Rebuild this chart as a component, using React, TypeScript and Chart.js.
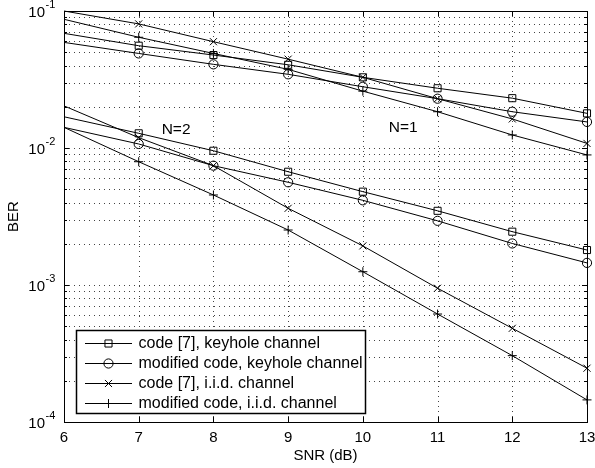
import React, { useEffect, useRef } from "react";
import { Chart, registerables } from "chart.js";

Chart.register(...registerables);

const snr = [6, 7, 8, 9, 10, 11, 12, 13];

// N = 1
const code7Keyhole1 = [0.0687, 0.0558, 0.0477, 0.0405, 0.0328, 0.0273, 0.0231, 0.0179];
const modKeyhole1 = [0.059, 0.049, 0.0408, 0.0345, 0.028, 0.0229, 0.0184, 0.0155];
const code7Iid1 = [0.1, 0.0805, 0.0597, 0.0445, 0.0328, 0.0229, 0.0163, 0.0108];
const modIid1 = [0.087, 0.0643, 0.049, 0.0375, 0.026, 0.0184, 0.01245, 0.0089];

// N = 2
const code7Keyhole2 = [0.0169, 0.0128, 0.00955, 0.00671, 0.0048, 0.00348, 0.00245, 0.0018];
const modKeyhole2 = [0.01415, 0.0107, 0.00743, 0.00562, 0.00415, 0.00294, 0.00201, 0.00145];
const code7Iid2 = [0.0203, 0.0119, 0.00743, 0.00363, 0.00193, 0.000947, 0.000483, 0.000247];
const modIid2 = [0.01415, 0.00794, 0.00454, 0.00252, 0.00125, 0.000614, 0.000305, 0.000145];

const xTicks = [6, 7, 8, 9, 10, 11, 12, 13];
const yDecades = [1e-4, 1e-3, 1e-2, 1e-1];
const yDecadeExp = ["-4", "-3", "-2", "-1"];
const yMinorMultiples = [2, 3, 4, 5, 6, 7, 8, 9];

const legendLabels = [
  "code [7], keyhole channel",
  "modified code, keyhole channel",
  "code [7], i.i.d. channel",
  "modified code, i.i.d. channel",
];

const FONT = '"Liberation Sans", Arial, Helvetica, sans-serif';

type Marker = { style: string; radius: number };
const markers: Marker[] = [
  { style: "rect", radius: 5 },
  { style: "circle", radius: 4.6 },
  { style: "crossRot", radius: 5 },
  { style: "cross", radius: 4.5 },
];

function mk(data: number[], m: Marker, label: string) {
  return {
    label,
    data: snr.map((x, i) => ({ x, y: data[i] })),
    borderColor: "#000",
    borderWidth: 1,
    pointStyle: m.style,
    pointRadius: snr.map((x) => (x === 6 ? 0 : m.radius)),
    pointBorderColor: "#000",
    pointBackgroundColor: "rgba(0,0,0,0)",
    pointBorderWidth: 1,
    tension: 0,
    fill: false,
    clip: false,
  };
}

function drawMarker(ctx: CanvasRenderingContext2D, m: Marker, x: number, y: number) {
  ctx.beginPath();
  const r = m.radius;
  if (m.style === "rect") {
    const s = Math.SQRT1_2 * r;
    ctx.rect(x - s, y - s, 2 * s, 2 * s);
  } else if (m.style === "circle") {
    ctx.arc(x, y, r, 0, Math.PI * 2);
  } else if (m.style === "crossRot") {
    const s = Math.SQRT1_2 * r;
    ctx.moveTo(x - s, y - s);
    ctx.lineTo(x + s, y + s);
    ctx.moveTo(x - s, y + s);
    ctx.lineTo(x + s, y - s);
  } else {
    ctx.moveTo(x - r, y);
    ctx.lineTo(x + r, y);
    ctx.moveTo(x, y - r);
    ctx.lineTo(x, y + r);
  }
  ctx.stroke();
}

const decorPlugin = {
  id: "decor",
  beforeDatasetsDraw(chart: any) {
    const ctx = chart.ctx;
    const { left, right, top, bottom } = chart.chartArea;
    const xs = chart.scales.x;
    const ys = chart.scales.y;
    ctx.save();
    ctx.fillStyle = "#fff";
    ctx.fillRect(0, 0, chart.width, chart.height);
    ctx.strokeStyle = "#444";
    ctx.lineWidth = 1;
    ctx.setLineDash([1, 4]);
    for (const t of xTicks) {
      const px = Math.round(xs.getPixelForValue(t)) + 0.5;
      if (px <= left + 1 || px >= right - 1) continue;
      ctx.beginPath();
      ctx.moveTo(px, top);
      ctx.lineTo(px, bottom);
      ctx.stroke();
    }
    for (const d of yDecades) {
      for (const m of [1, ...yMinorMultiples]) {
        const v = d * m;
        if (v >= 0.1 + 1e-12 || v <= 1e-4 + 1e-12) continue;
        const py = Math.round(ys.getPixelForValue(v)) + 0.5;
        ctx.beginPath();
        ctx.moveTo(left, py);
        ctx.lineTo(right, py);
        ctx.stroke();
      }
    }
    ctx.restore();
  },
  afterDatasetsDraw(chart: any) {
    const ctx = chart.ctx;
    const { left, right, top, bottom } = chart.chartArea;
    const xs = chart.scales.x;
    const ys = chart.scales.y;
    ctx.save();
    ctx.setLineDash([]);
    ctx.strokeStyle = "#000";
    ctx.lineWidth = 1;
    // ticks
    ctx.beginPath();
    for (const t of xTicks) {
      const px = Math.round(xs.getPixelForValue(t)) + 0.5;
      ctx.moveTo(px, bottom);
      ctx.lineTo(px, bottom - 5);
      ctx.moveTo(px, top);
      ctx.lineTo(px, top + 5);
    }
    for (const d of yDecades) {
      for (const m of [1, ...yMinorMultiples]) {
        const v = d * m;
        if (v > 0.1 + 1e-12) continue;
        const py = Math.round(ys.getPixelForValue(v)) + 0.5;
        const len = m === 1 ? 5 : 3;
        ctx.moveTo(left, py);
        ctx.lineTo(left + len, py);
        ctx.moveTo(right, py);
        ctx.lineTo(right - len, py);
      }
    }
    ctx.stroke();
    // frame
    ctx.strokeRect(Math.round(left) + 0.5, Math.round(top) + 0.5, Math.round(right - left), Math.round(bottom - top));

    // tick labels
    ctx.fillStyle = "#000";
    ctx.font = `15px ${FONT}`;
    ctx.textAlign = "center";
    ctx.textBaseline = "middle";
    for (const t of xTicks) {
      ctx.fillText(String(t), xs.getPixelForValue(t), bottom + 16);
    }
    yDecades.forEach((d, i) => {
      const py = ys.getPixelForValue(d);
      ctx.font = `15px ${FONT}`;
      ctx.textAlign = "right";
      ctx.textBaseline = "middle";
      ctx.fillText("10", 45, py + 1.5);
      ctx.font = `11px ${FONT}`;
      ctx.textAlign = "left";
      ctx.fillText(yDecadeExp[i], 45.5, py - 6);
    });
    // axis titles
    ctx.font = `15px ${FONT}`;
    ctx.textAlign = "center";
    ctx.textBaseline = "middle";
    ctx.fillText("SNR (dB)", (left + right) / 2, bottom + 34);
    ctx.save();
    ctx.translate(14, (top + bottom) / 2);
    ctx.rotate(-Math.PI / 2);
    ctx.fillText("BER", 0, 0);
    ctx.restore();

    // annotations
    ctx.font = `15.5px ${FONT}`;
    ctx.fillText("N=2", xs.getPixelForValue(7.5), ys.getPixelForValue(0.0135));
    ctx.fillText("N=1", xs.getPixelForValue(10.54), ys.getPixelForValue(0.014));

    // legend
    const lx0 = 76.5, ly0 = 330.5, lw = 289, lh = 83;
    ctx.fillStyle = "#fff";
    ctx.fillRect(lx0, ly0, lw, lh);
    ctx.lineWidth = 1.5;
    ctx.strokeStyle = "#000";
    ctx.strokeRect(lx0, ly0, lw, lh);
    ctx.lineWidth = 1;
    const rows = [343, 363, 383, 403];
    legendLabels.forEach((lab, i) => {
      const y = rows[i] + 0.5;
      ctx.beginPath();
      ctx.moveTo(85, y);
      ctx.lineTo(132, y);
      ctx.stroke();
      drawMarker(ctx, markers[i], 108.5, y);
      ctx.fillStyle = "#000";
      ctx.font = `16px ${FONT}`;
      ctx.textAlign = "left";
      ctx.textBaseline = "middle";
      ctx.fillText(lab, 138.5, rows[i] + 0.5);
    });
    ctx.restore();
  },
};

export default function App() {
  const ref = useRef<HTMLCanvasElement | null>(null);
  useEffect(() => {
    document.body.style.margin = "0";
    if (!ref.current) return;
    const chart = new Chart(ref.current, {
      type: "line",
      data: {
        datasets: [
          mk(code7Keyhole1, markers[0], legendLabels[0]),
          mk(modKeyhole1, markers[1], legendLabels[1]),
          mk(code7Iid1, markers[2], legendLabels[2]),
          mk(modIid1, markers[3], legendLabels[3]),
          mk(code7Keyhole2, markers[0], legendLabels[0]),
          mk(modKeyhole2, markers[1], legendLabels[1]),
          mk(code7Iid2, markers[2], legendLabels[2]),
          mk(modIid2, markers[3], legendLabels[3]),
        ] as any,
      },
      options: {
        animation: false,
        responsive: false,
        devicePixelRatio: 1,
        layout: { padding: { left: 64, right: 8, top: 11, bottom: 46 } },
        plugins: { legend: { display: false }, tooltip: { enabled: false } },
        scales: {
          x: { type: "linear", min: 6, max: 13, display: false },
          y: { type: "logarithmic", min: 1e-4, max: 1e-1, display: false },
        },
      } as any,
      plugins: [decorPlugin],
    });
    return () => chart.destroy();
  }, []);
  return (
    <div style={{ position: "absolute", left: 0, top: 0, width: 595, height: 468, background: "#fff" }}>
      <canvas ref={ref} width={595} height={468} style={{ display: "block" }} />
    </div>
  );
}
